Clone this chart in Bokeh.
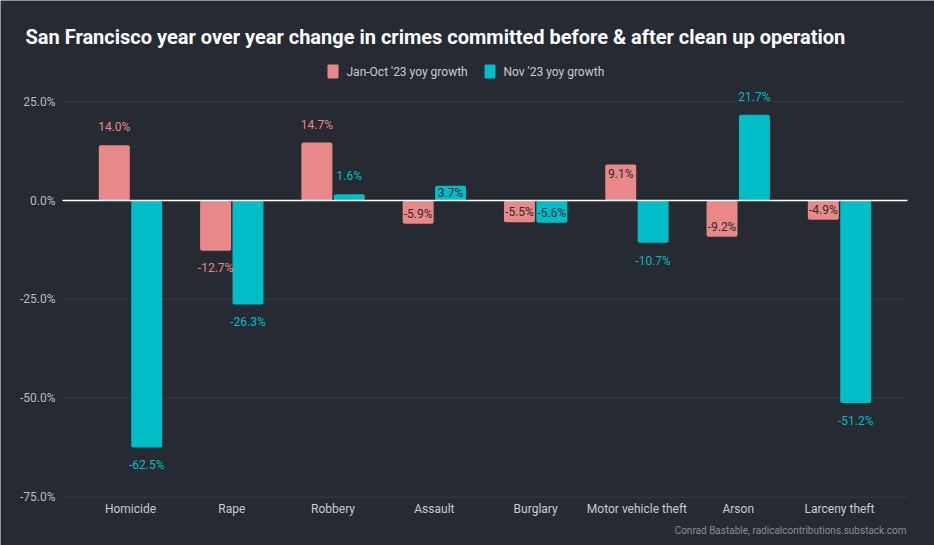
import numpy as np
from bokeh.plotting import figure
from bokeh.models import Range1d, ColumnDataSource
from bokeh.core.properties import value
from bokeh.embed import file_html
from bokeh.resources import INLINE

categories = ["Homicide", "Rape", "Robbery", "Assault", "Burglary",
              "Motor vehicle theft", "Arson", "Larceny theft"]
jan_oct = [14.0, -12.7, 14.7, -5.9, -5.5, 9.1, -9.2, -4.9]
nov = [-62.5, -26.3, 1.6, 3.7, -5.6, -10.7, 21.7, -51.2]
series_names = ["Jan-Oct '23 yoy growth", "Nov '23 yoy growth"]
y_ticks = [-75, -50, -25, 0, 25]
# labels drawn inside the bar (small bars)
inside_jan = ["Assault", "Burglary", "Motor vehicle theft", "Arson", "Larceny theft"]
inside_nov = ["Assault", "Burglary"]

BG = "#252a33"
RED = "#e88888"
CYAN = "#00bec8"
FONT = "Roboto"
W, H = 934, 545

# pixel <-> data mapping (frame covers whole canvas)
PX_X = 101.29          # px per category
X0 = -130 / PX_X
PX_Y = 3.953           # px per percent
Y_TOP = 200 / PX_Y

def px2x(px):
    return X0 + px / PX_X

def py2y(py):
    return Y_TOP - py / PX_Y

p = figure(width=W, height=H, output_backend="svg", toolbar_location=None,
           x_range=Range1d(px2x(0), px2x(W)), y_range=Range1d(py2y(H), py2y(0)),
           x_axis_type=None, y_axis_type=None,
           background_fill_color=BG, border_fill_color=BG,
           min_border=0, min_border_left=0, min_border_right=0, min_border_top=0, min_border_bottom=0)
p.outline_line_color = None
p.grid.visible = False

# gridlines
p.segment(x0=px2x(62), x1=px2x(907), y0=y_ticks, y1=y_ticks, line_color="#363a44", line_width=1)
# y tick labels
p.text(x=[px2x(55)] * len(y_ticks), y=y_ticks, text=[f"{t:.1f}%" for t in y_ticks],
       text_align="right", text_baseline="middle", text_font=value(FONT),
       text_font_size="12px", text_color="#b8bcc4")

xs = np.arange(len(categories))
bw = 0.306
off = 0.16
p.vbar(x=xs - off, top=jan_oct, bottom=0, width=bw, fill_color=RED, line_color=None, border_radius=2)
p.vbar(x=xs + off, top=nov, bottom=0, width=bw, fill_color=CYAN, line_color=None, border_radius=2)

# zero line
p.segment(x0=[px2x(62)], x1=[px2x(907)], y0=[0], y1=[0], line_color="#ffffff", line_width=1.5)

def label_positions(vals, inside_cats):
    ys, cols_in = [], []
    for c, v in zip(categories, vals):
        sgn = 1 if v >= 0 else -1
        if c in inside_cats:
            ys.append(v - sgn * min(2.5, abs(v) / 2))
            cols_in.append(True)
        else:
            ys.append(v + sgn * 4.5)
            cols_in.append(False)
    return ys, cols_in

for vals, xpos, col, inside in ((jan_oct, xs - off, RED, inside_jan), (nov, xs + off, CYAN, inside_nov)):
    ys, ins = label_positions(vals, inside)
    texts = [f"{v:.1f}%" for v in vals]
    colors = ["#2b2e36" if i else col for i in ins]
    src = ColumnDataSource(dict(x=list(xpos), y=ys, t=texts, c=colors))
    p.text(x="x", y="y", text="t", text_color="c", source=src, text_align="center",
           text_baseline="middle", text_font=value(FONT), text_font_size="12px")

# x category labels
p.text(x=list(xs), y=[py2y(508)] * len(xs), text=categories, text_align="center",
       text_baseline="middle", text_font=value(FONT), text_font_size="12px", text_color="#c8ccd2")

# legend
p.rect(x=[px2x(332.5), px2x(489.5)], y=[py2y(71)] * 2, width=11, height=14,
       width_units="screen", height_units="screen", fill_color=[RED, CYAN], line_color=None,
       border_radius=1)
p.text(x=[px2x(346), px2x(503)], y=[py2y(71)] * 2, text=series_names, text_align="left",
       text_baseline="middle", text_font=value(FONT), text_font_size="12px", text_color="#c8ccd2")

# title
p.text(x=[px2x(25)], y=[py2y(36)],
       text=["San Francisco year over year change in crimes committed before & after clean up operation"],
       text_align="left", text_baseline="middle", text_font=value(FONT), text_font_size="20px",
       text_font_style="bold", text_color="#ffffff")

# footer
p.text(x=[px2x(906)], y=[py2y(530)], text=["Conrad Bastable, radicalcontributions.substack.com"],
       text_align="right", text_baseline="middle", text_font=value(FONT), text_font_size="10px",
       text_color="#8a8e96")

open("out.html", "w").write(file_html(p, INLINE))
